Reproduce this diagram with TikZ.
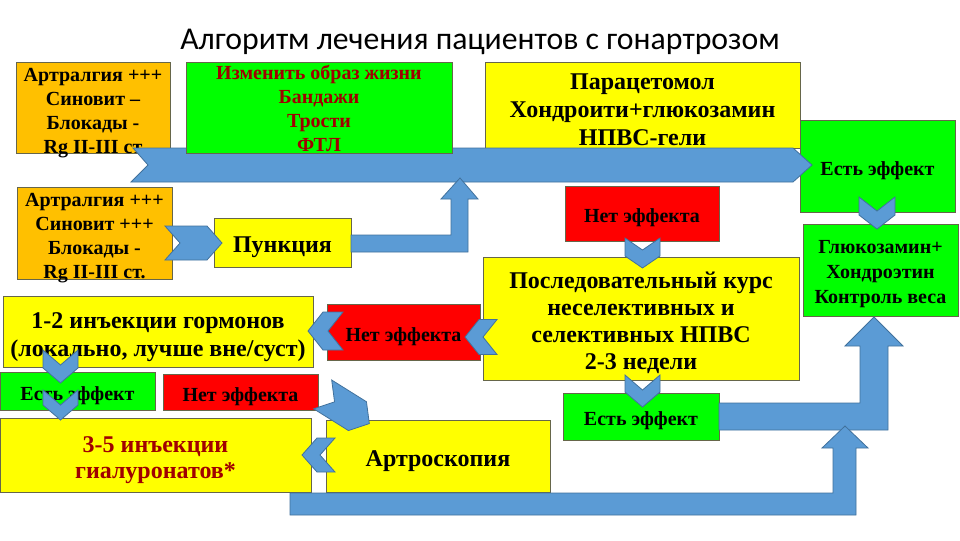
\documentclass[tikz,border=0pt]{standalone}
\usepackage{fontspec}
\setmainfont{Liberation Serif}
\newfontfamily\titlefont{Carlito}
\definecolor{orng}{HTML}{FFC000}
\definecolor{grn}{HTML}{00FF00}
\definecolor{ylw}{HTML}{FFFF00}
\definecolor{rd}{HTML}{FF0000}
\definecolor{blu}{HTML}{5B9BD5}
\definecolor{bluD}{HTML}{41719C}
\definecolor{dred}{HTML}{A00000}
\definecolor{edge}{HTML}{66664A}
\newcommand\fs[2]{\fontsize{#1}{#2}\selectfont}
\tikzset{
  box/.style={draw=edge, line width=0.5pt, inner sep=0pt},
  txt/.style={inner sep=0pt, align=center},
  small/.style={font=\bfseries\fs{15}{18}},
  big/.style={font=\bfseries\fs{18}{21}},
  blk/.style={fill=blu, draw=bluD, line width=0.6pt, line join=miter},
}
% name, x1, y1, x2, y2, fill, text style, text
\newcommand\bx[8]{\node[box, fill=#6, minimum width={(#4-#2)*0.75pt}, minimum height={(#5-#3)*0.75pt}] (#1) at ({(#2+#4)/2},{(#3+#5)/2}) {};
\node[txt, #7] (#1-t) at ([yshift=-3.4pt]#1.center) {#8};}
% chevron: center x, center y, rotation, length, height, notch depth
\newcommand\mychev[6]{\draw[blk, shift={(#1,#2)}, rotate=#3] (-#4/2,-#5/2) -- (#4/2-#6,-#5/2) -- (#4/2,0) -- (#4/2-#6,#5/2) -- (-#4/2,#5/2) -- (-#4/2+#6,0) -- cycle;}
\begin{document}
\begin{tikzpicture}[x=0.75pt, y=-0.75pt]
\useasboundingbox (0,0) rectangle (960,540);
\fill[white] (0,0) rectangle (960,540);

\node[font=\titlefont\fs{23.8}{28}] (title) at (480,42) {Алгоритм лечения пациентов с гонартрозом};

% boxes
\bx{o1}{16}{62}{170}{153}{orng}{small, yshift=-0.5pt}{Артралгия +++\\Синовит –\\Блокады -\\Rg II-III ст}
\bx{para}{485}{62}{800}{148}{ylw}{big}{Парацетомол\\Хондроити+глюкозамин\\НПВС-гели}
\bx{e1}{800}{120}{955}{212}{grn}{small}{Есть эффект}
\bx{gl}{803}{224}{958}{316}{grn}{small, font=\bfseries\fs{15}{18.75}}{Глюкозамин+\\Хондроэтин\\Контроль веса}
\bx{n1}{565}{186}{719}{241}{rd}{small}{Нет эффекта}
\bx{nsaid}{483}{257}{799}{380}{ylw}{font=\bfseries\fs{18}{20.25}}{Последовательный курс\\неселективных и\\селективных НПВС\\2-3 недели}
\bx{e2}{563}{393}{719}{440}{grn}{small}{Есть эффект}
\bx{o2}{17}{187}{172}{279}{orng}{small, yshift=-0.5pt}{Артралгия +++\\Синовит +++\\Блокады -\\Rg II-III ст.}
\bx{punk}{214}{218}{351}{267}{ylw}{big}{Пункция}
\bx{horm}{3}{296}{313}{367}{ylw}{font=\bfseries\fs{18}{21}, yshift=-1.2pt}{1-2 инъекции гормонов\\(локально, лучше вне/суст)}
\bx{n2}{327}{304}{480}{360}{rd}{small}{Нет эффекта}
\bx{e3}{0}{372}{155}{410}{grn}{small}{Есть эффект}
\bx{n3}{163}{374}{318}{410}{rd}{small}{Нет эффекта}
\bx{hyal}{0}{418}{311}{492}{ylw}{font=\bfseries\fs{18}{19.5}, text=dred, yshift=-0.5pt}{3-5 инъекции\\гиалуронатов*}
\bx{arth}{326}{420}{550}{492}{ylw}{big, yshift=-0.5pt}{Артроскопия}

% big horizontal arrow
\draw[blk] (133,148) -- (793,148) -- (812,165) -- (793,182) -- (131,182) -- (148,165) -- cycle;
% lifestyle box lies over the big arrow
\bx{life}{186}{62}{452}{153}{grn}{small, text=dred, yshift=2.4pt}{Изменить образ жизни\\Бандажи\\Трости\\ФТЛ}
% bent arrow from Punktsiya up
\draw[blk] (351,235) -- (451,235) -- (451,199) -- (441,199) -- (460,178) -- (478,199) -- (468,199) -- (468,252) -- (351,252) -- cycle;
% bent arrow from e2 to gl
\draw[blk] (719,403) -- (860,403) -- (860,346) -- (845,346) -- (874,317) -- (903,346) -- (888,346) -- (888,430) -- (719,430) -- cycle;
% bottom bent arrow
\draw[blk] (290,493) -- (833,493) -- (833,448) -- (822,448) -- (845,426) -- (868,448) -- (856,448) -- (856,515) -- (290,515) -- cycle;

% chevrons
\mychev{193.5}{243}{0}{57}{34}{15}
\mychev{877}{213}{-90}{32}{36}{14}
\mychev{642.5}{253}{-90}{30}{35}{12}
\mychev{642.5}{391}{-90}{32}{35}{15}
\mychev{481}{337}{180}{32}{35}{14}
\mychev{325.5}{331}{180}{35}{38}{15}
\mychev{60.5}{366.5}{-90}{33}{35}{15}
\mychev{60.5}{405}{-90}{30}{35}{15}
\mychev{318.5}{455}{180}{33}{34}{15}
\mychev{346}{409}{-32}{55}{34}{14}
\end{tikzpicture}
\end{document}
